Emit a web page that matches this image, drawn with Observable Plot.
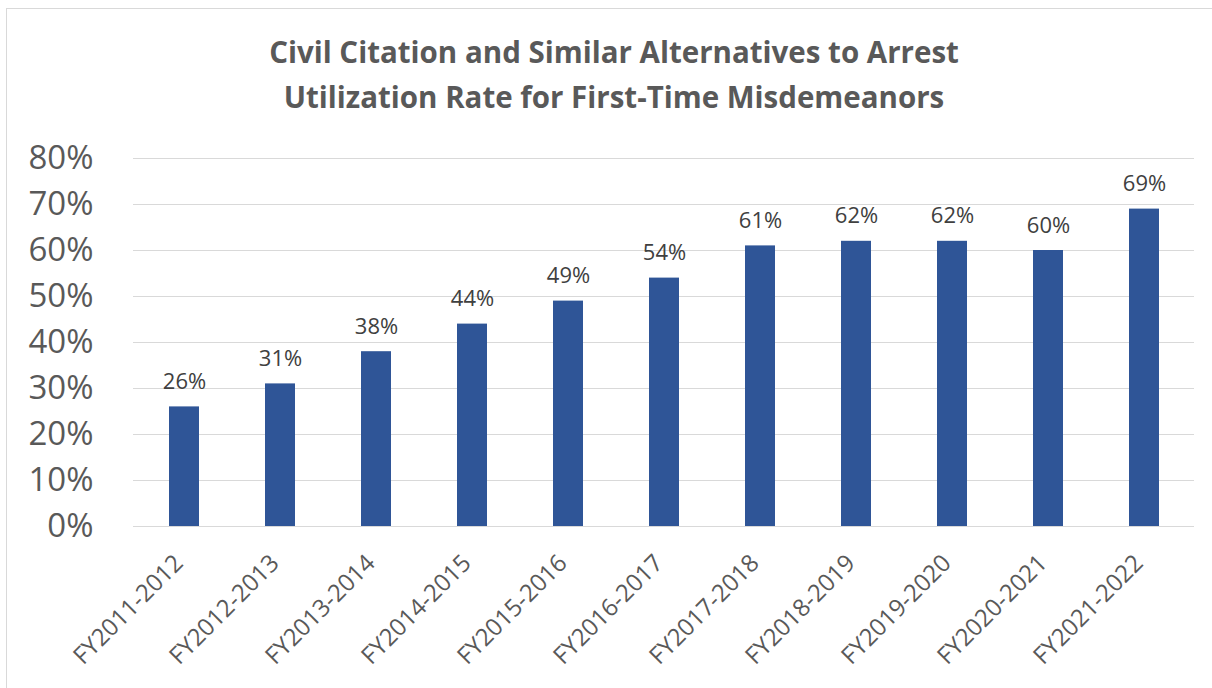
<!DOCTYPE html>
<html>
<head>
<meta charset="utf-8">
<script src="https://cdn.jsdelivr.net/npm/d3@7"></script>
<script src="https://cdn.jsdelivr.net/npm/@observablehq/plot@0.6"></script>
<style>
  html, body { margin: 0; padding: 0; background: #fff; overflow: hidden; }
  #wrap { position: relative; width: 1212px; height: 688px; overflow: hidden; font-family: "Open Sans", sans-serif; }
  #frame { position: absolute; left: 6px; top: 8px; width: 1220px; height: 700px; border: 1px solid #d9d9d9; box-sizing: border-box; }
  #title { position: absolute; left: 0; top: 29px; width: 1228px; text-align: center; color: #595959;
           font-weight: 700; font-size: 29.5px; line-height: 45px; }
  #chart { position: absolute; left: 0; top: 120px; }
</style>
</head>
<body>
<div id="wrap">
  <div id="frame"></div>
  <div id="title">Civil Citation and Similar Alternatives to Arrest<br>Utilization Rate for First-Time Misdemeanors</div>
  <div id="chart"></div>
</div>
<script>
// Fiscal years and utilization rate (percent of first-time misdemeanors)
const fiscalYears = ["FY2011-2012", "FY2012-2013", "FY2013-2014", "FY2014-2015", "FY2015-2016", "FY2016-2017",
                     "FY2017-2018", "FY2018-2019", "FY2019-2020", "FY2020-2021", "FY2021-2022"];
const utilization = [26, 31, 38, 44, 49, 54, 61, 62, 62, 60, 69];
const yTicks = [0, 10, 20, 30, 40, 50, 60, 70, 80];

const rows = fiscalYears.map((fy, i) => ({fy, rate: utilization[i]}));

const chart = Plot.plot({
  width: 1212,
  height: 568,
  marginLeft: 133,
  marginRight: 18,
  marginTop: 38,
  marginBottom: 162,
  style: {fontFamily: "Open Sans, sans-serif", background: "transparent"},
  x: {domain: fiscalYears, paddingInner: 0.69, paddingOuter: 0.345, axis: null},
  y: {domain: [0, 80], ticks: yTicks, axis: null},
  marks: [
    Plot.gridY(yTicks, {stroke: "#d9d9d9", strokeOpacity: 1, strokeWidth: 1.2}),
    Plot.barY(rows, {x: "fy", y: "rate", fill: "#2f5597"}),
    Plot.text(rows, {x: "fy", y: "rate", text: d => `${d.rate}%`, lineAnchor: "bottom", dy: -18,
                     fontSize: 22, fill: "#404040"}),
    Plot.axisY(yTicks, {tickSize: 0, tickPadding: 40, tickFormat: d => `${d}%`, label: null,
                        fontSize: 33, color: "#595959"}),
    Plot.text(fiscalYears, {x: d => d, frameAnchor: "bottom", rotate: -45, textAnchor: "end", lineAnchor: "bottom",
                            dx: 0, dy: 38, fontSize: 24, fill: "#595959"})
  ]
});
document.getElementById("chart").appendChild(chart);
</script>
</body>
</html>
